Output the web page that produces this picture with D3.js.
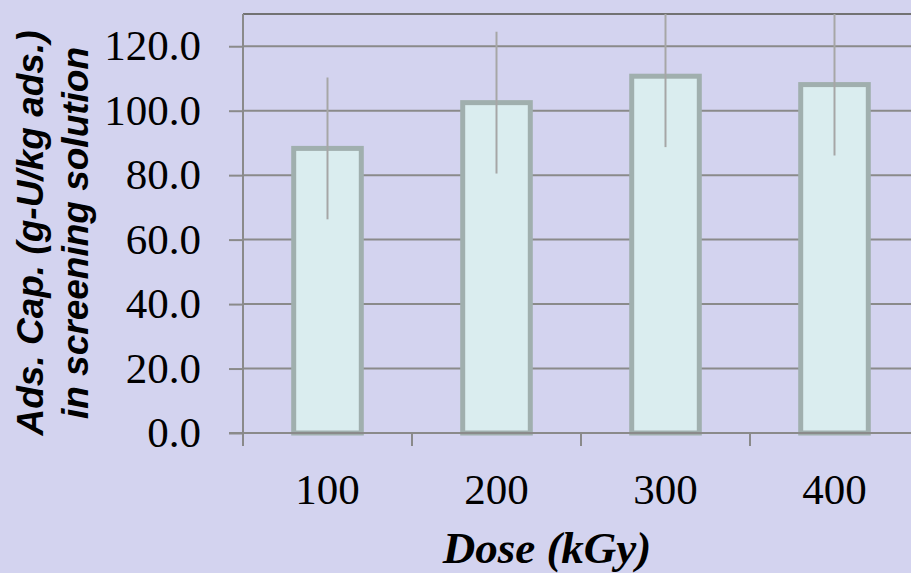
<!DOCTYPE html>
<html lang="en">
  <head>
    <meta charset="UTF-8" />
    <title>Ads. Cap. vs Dose</title>
    <style>
      html, body { margin: 0; padding: 0; background: #d3d3ef; overflow: hidden; }
      svg { display: block; }
    </style>
  </head>
  <body>
    <svg></svg>

    <script src="https://d3js.org/d3.v7.min.js"></script>
    <script>
      // data
      const doses = ["100", "200", "300", "400"];
      const capacity = [88.3, 102.5, 110.7, 108.1];
      const errors = [22.0, 22.0, 22.0, 22.0];
      const yTicks = [0, 20, 40, 60, 80, 100, 120];

      const width = 911;
      const height = 573;
      const plotLeft = 243;
      const plotRight = 919; // plot runs past the window edge, like the original
      const plotTop = 14;
      const plotBottom = 433;

      const svg = d3.select("svg").attr("width", width).attr("height", height);

      const x = d3.scaleBand().domain(doses).range([plotLeft, plotRight]).padding(0);
      const y = d3.scaleLinear().domain([0, 130]).range([plotBottom, plotTop]);

      // gridlines
      svg
        .append("g")
        .selectAll("line")
        .data(yTicks.filter((d) => d > 0))
        .join("line")
        .attr("x1", plotLeft)
        .attr("x2", plotRight)
        .attr("y1", (d) => y(d))
        .attr("y2", (d) => y(d))
        .style("stroke", "#8a8a8a")
        .style("stroke-width", 2);

      // top border
      svg
        .append("line")
        .attr("x1", plotLeft)
        .attr("x2", plotRight)
        .attr("y1", y(130))
        .attr("y2", y(130))
        .style("stroke", "#727272")
        .style("stroke-width", 2);

      // bars
      const barW = x.bandwidth() * 0.4;
      svg
        .append("g")
        .selectAll("rect")
        .data(doses)
        .join("rect")
        .attr("x", (d) => x(d) + (x.bandwidth() - barW) / 2)
        .attr("y", (d, i) => y(capacity[i]))
        .attr("width", barW)
        .attr("height", (d, i) => y(0) - y(capacity[i]))
        .attr("fill", "#daedef")
        .attr("stroke", "#a0afae")
        .attr("stroke-width", 5);

      // error bars (clipped at plot top)
      svg
        .append("g")
        .selectAll("line")
        .data(doses)
        .join("line")
        .attr("x1", (d) => x(d) + x.bandwidth() / 2)
        .attr("x2", (d) => x(d) + x.bandwidth() / 2)
        .attr("y1", (d, i) => y(Math.min(130, capacity[i] + errors[i])))
        .attr("y2", (d, i) => y(capacity[i] - errors[i]))
        .style("stroke", "#a6a6a6")
        .style("stroke-width", 2);

      // y axis
      const yAxis = svg
        .append("g")
        .attr("transform", "translate(" + plotLeft + ",0)")
        .call(
          d3
            .axisLeft(y)
            .tickValues(yTicks)
            .tickFormat(d3.format(".1f"))
            .tickSizeInner(14)
            .tickSizeOuter(0)
            .tickPadding(28)
        );
      yAxis.select(".domain").remove();
      yAxis.selectAll("line").style("stroke", "#8a8a8a").style("stroke-width", 2);
      yAxis
        .selectAll("text")
        .style("font-family", "'Liberation Serif', 'DejaVu Serif', serif")
        .style("font-size", "43px")
        .style("fill", "#000");

      svg
        .append("line")
        .attr("x1", plotLeft)
        .attr("x2", plotLeft)
        .attr("y1", plotTop)
        .attr("y2", plotBottom + 13)
        .style("stroke", "#8a8a8a")
        .style("stroke-width", 2);

      // x axis
      const xAxis = svg
        .append("g")
        .attr("transform", "translate(0," + plotBottom + ")")
        .call(d3.axisBottom(x).tickSize(0).tickPadding(40));
      xAxis.select(".domain").remove();
      xAxis
        .selectAll("text")
        .style("font-family", "'Liberation Serif', 'DejaVu Serif', serif")
        .style("font-size", "43px")
        .style("fill", "#000");

      svg
        .append("line")
        .attr("x1", plotLeft - 14)
        .attr("x2", plotRight)
        .attr("y1", plotBottom)
        .attr("y2", plotBottom)
        .style("stroke", "#8a8a8a")
        .style("stroke-width", 2);

      // category boundary ticks
      svg
        .append("g")
        .selectAll("line")
        .data(doses.slice(1))
        .join("line")
        .attr("x1", (d) => x(d))
        .attr("x2", (d) => x(d))
        .attr("y1", plotBottom)
        .attr("y2", plotBottom + 13)
        .style("stroke", "#8a8a8a")
        .style("stroke-width", 2);

      // axis titles
      const yTitle = svg
        .append("g")
        .attr("transform", "translate(0,233) rotate(-90)")
        .style("font-family", "'Liberation Sans', Arial, sans-serif")
        .style("font-weight", "bold")
        .style("font-style", "italic")
        .style("font-size", "37px")
        .attr("text-anchor", "middle");
      yTitle.append("text").attr("x", 0).attr("y", 43).text("Ads. Cap. (g-U/kg ads.)");
      yTitle.append("text").attr("x", 0).attr("y", 88).text("in screening solution");

      svg
        .append("text")
        .attr("x", 547)
        .attr("y", 563)
        .attr("text-anchor", "middle")
        .style("font-family", "'Liberation Serif', 'DejaVu Serif', serif")
        .style("font-weight", "bold")
        .style("font-style", "italic")
        .style("font-size", "45px")
        .text("Dose (kGy)");
    </script>
  </body>
</html>
